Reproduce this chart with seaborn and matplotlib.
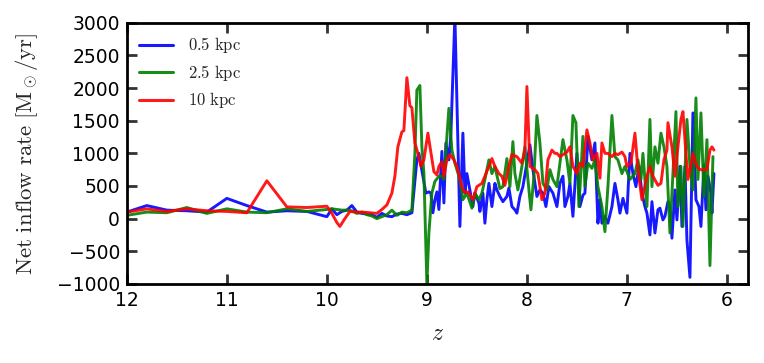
import numpy as np
import pandas as pd
import matplotlib
matplotlib.use("Agg")
import matplotlib.pyplot as plt
import seaborn as sns

# ---------------- data ----------------
z_blue = [12.0, 11.8, 11.6, 11.4, 11.2, 11.0, 10.8, 10.6, 10.4, 10.2, 10.0, 9.95, 9.9, 9.85, 9.8,
          9.75, 9.7, 9.65, 9.6, 9.55, 9.5, 9.45, 9.4, 9.35, 9.3, 9.25, 9.2, 9.15, 9.1, 9.08,
          9.04, 9.01, 8.98, 8.96, 8.94, 8.92, 8.9, 8.88, 8.85, 8.83, 8.81, 8.78, 8.76, 8.72, 8.67,
          8.64, 8.62, 8.6, 8.57, 8.54, 8.52, 8.48, 8.47, 8.44, 8.42, 8.4, 8.38, 8.35, 8.32, 8.3,
          8.27, 8.24, 8.2, 8.18, 8.15, 8.12, 8.1, 8.07, 8.04, 8.0, 7.97, 7.94, 7.9, 7.87, 7.84,
          7.81, 7.78, 7.74, 7.7, 7.67, 7.64, 7.62, 7.59, 7.57, 7.54, 7.5, 7.47, 7.44, 7.42, 7.39,
          7.35, 7.32, 7.29, 7.27, 7.25, 7.22, 7.19, 7.15, 7.12, 7.09, 7.07, 7.04, 7.0, 6.97, 6.94,
          6.91, 6.88, 6.85, 6.82, 6.8, 6.77, 6.75, 6.72, 6.69, 6.67, 6.64, 6.62, 6.59, 6.57, 6.55,
          6.52, 6.5, 6.47, 6.45, 6.42, 6.4, 6.37, 6.34, 6.31, 6.28, 6.26, 6.23, 6.21, 6.19, 6.16,
          6.15, 6.13]
inflow_blue = [100, 200, 130, 120, 100, 310, 200, 100, 120, 110, 30, 150, 60, 110, 130,
               200, 100, 80, 70, 60, 20, 80, 40, 30, 70, 80, 60, 90, 900, 1000,
               650, 390, 410, 390, 90, 290, 410, 140, 1030, 240, 1160, 900, 1300, 3100, -120,
               1310, 390, 690, 440, 185, 390, 240, 110, 390, -70, 290, 540, 185, 540, 440,
               340, 260, 340, 470, 185, 135, 84, 340, 490, 850, 1130, 750, 340, 440, 390,
               185, 490, 390, 185, 540, 650, 185, 340, 540, 35, 1000, 185, 360, 390, 1260,
               900, 1160, -70, 290, -70, 35, -70, 185, 540, 290, 84, 310, 84, 1000, 690,
               490, 800, 390, 185, 84, -250, 260, -220, 135, 160, -20, 35, 260, 185, -300,
               440, -20, 800, -120, 800, -330, -900, 1620, 290, 185, -120, 820, 135, 650, 390,
               84, 690]

z_green = [12.0, 11.8, 11.6, 11.4, 11.2, 11.0, 10.8, 10.6, 10.4, 10.2, 10.0, 9.95, 9.9, 9.85, 9.8,
           9.75, 9.7, 9.65, 9.6, 9.55, 9.5, 9.45, 9.4, 9.35, 9.3, 9.25, 9.2, 9.15, 9.12, 9.1,
           9.07, 9.05, 9.03, 9.0, 8.98, 8.95, 8.92, 8.88, 8.85, 8.83, 8.78, 8.75, 8.72, 8.67, 8.64,
           8.6, 8.55, 8.52, 8.48, 8.45, 8.42, 8.38, 8.35, 8.32, 8.27, 8.24, 8.2, 8.17, 8.14, 8.12,
           8.09, 8.05, 8.02, 7.99, 7.96, 7.93, 7.9, 7.87, 7.84, 7.8, 7.77, 7.74, 7.7, 7.67, 7.64,
           7.6, 7.57, 7.54, 7.51, 7.48, 7.44, 7.42, 7.39, 7.35, 7.32, 7.29, 7.25, 7.22, 7.19, 7.15,
           7.12, 7.09, 7.05, 7.02, 6.97, 6.92, 6.89, 6.86, 6.84, 6.8, 6.77, 6.75, 6.72, 6.69, 6.66,
           6.63, 6.6, 6.57, 6.54, 6.51, 6.49, 6.46, 6.44, 6.4, 6.37, 6.34, 6.31, 6.29, 6.26, 6.23,
           6.2, 6.17, 6.14]
inflow_green = [50, 100, 90, 170, 80, 150, 100, 90, 150, 110, 140, 150, 140, 130, 130,
                120, 80, 100, 60, 40, 0, 30, 60, 130, 50, 100, 90, 130, 1000, 1970,
                2040, 1100, 700, -1000, -220, 390, 570, 650, 650, 600, 1690, 1050, 850, 600, 290,
                390, 160, 390, 290, 390, 600, 900, 690, 800, 460, 490, 920, 490, 1180, 690,
                440, 800, 1100, 600, 135, 650, 1580, 1160, 540, 440, 750, 600, 490, 850, 1210,
                900, 540, 1580, 1470, 185, 1260, 490, 850, 770, 900, 490, 185, -200, 490, 1580,
                950, 900, 690, 800, 600, 690, 900, 600, 1000, 185, 1520, 490, 1100, 850, 1310,
                1100, 800, -220, 690, 1640, 185, 800, -120, 1520, 800, 440, 1850, 600, 1620, 340,
                1210, -720, 950]

z_red = [12.0, 11.8, 11.6, 11.4, 11.2, 11.0, 10.8, 10.6, 10.4, 10.2, 10.0, 9.95, 9.9, 9.87, 9.82,
         9.77, 9.7, 9.64, 9.57, 9.5, 9.45, 9.4, 9.35, 9.32, 9.29, 9.25, 9.23, 9.2, 9.17, 9.15,
         9.12, 9.09, 9.06, 9.03, 8.99, 8.93, 8.9, 8.88, 8.85, 8.83, 8.8, 8.77, 8.73, 8.7, 8.65,
         8.62, 8.59, 8.54, 8.5, 8.45, 8.42, 8.38, 8.35, 8.32, 8.28, 8.25, 8.22, 8.18, 8.15, 8.1,
         8.05, 8.02, 8.0, 7.97, 7.92, 7.89, 7.85, 7.82, 7.79, 7.75, 7.72, 7.7, 7.67, 7.64, 7.6,
         7.57, 7.54, 7.5, 7.47, 7.44, 7.4, 7.37, 7.34, 7.3, 7.27, 7.25, 7.22, 7.19, 7.15, 7.12,
         7.09, 7.05, 7.02, 7.0, 6.96, 6.92, 6.89, 6.85, 6.8, 6.77, 6.74, 6.69, 6.66, 6.63, 6.6,
         6.59, 6.55, 6.52, 6.49, 6.46, 6.44, 6.41, 6.39, 6.35, 6.34, 6.3, 6.27, 6.24, 6.2, 6.17,
         6.15, 6.13]
inflow_red = [100, 150, 110, 150, 120, 110, 90, 580, 180, 170, 190, 80, -60, -120, 0,
              110, 100, 100, 90, 80, 140, 210, 390, 650, 1100, 1330, 1350, 2160, 1730, 1700,
              1160, 1000, 800, 900, 1310, 720, 670, 800, 870, 650, 900, 980, 900, 800, 490,
              400, 410, 290, 490, 540, 650, 800, 920, 800, 690, 650, 510, 800, 980, 950,
              850, 1050, 2024, 800, 750, 690, 290, 390, 900, 1050, 1000, 1000, 950, 980, 1020,
              1100, 800, 690, 850, 800, 1360, 1160, 900, 1000, 620, 1160, 1000, 1000, 950, 1000,
              980, 1020, 950, 800, 850, 1310, 750, 290, 650, 800, 650, 510, 540, 900, 1050,
              1470, 1100, 650, 1100, 1520, 1640, 1000, 600, 900, 1000, 800, 750, 750, 750, 1050,
              1100, 1050]

series_labels = ["0.5 kpc", "2.5 kpc", "10 kpc"]
series_colors = ["#0000ff", "#008000", "#ff0000"]
x_ticks = [12, 11, 10, 9, 8, 7, 6]
y_ticks = [-1000, -500, 0, 500, 1000, 1500, 2000, 2500, 3000]

# ---------------- style ----------------
sns.set_style("white")
plt.rcParams["font.family"] = ["DejaVu Sans"]
plt.rcParams["mathtext.fontset"] = "cm"

frames = []
for lab, zz, vv in zip(series_labels, [z_blue, z_green, z_red],
                       [inflow_blue, inflow_green, inflow_red]):
    frames.append(pd.DataFrame({"z": zz, "inflow": vv, "series": lab}))
df = pd.concat(frames, ignore_index=True)

fig = plt.figure(figsize=(7.64, 3.63), dpi=100)
ax = fig.add_axes([0.166, 0.218, 0.813, 0.719])

sns.lineplot(data=df, x="z", y="inflow", hue="series", hue_order=series_labels,
             palette=dict(zip(series_labels, series_colors)), estimator=None,
             sort=False, linewidth=2.1, alpha=0.9, ax=ax)

ax.set_xlim(12, 5.79)
ax.set_ylim(-1000, 3000)
ax.set_xticks(x_ticks)
ax.set_xticklabels([str(t) for t in x_ticks])
ax.set_yticks(y_ticks)
ax.set_yticklabels([str(t).replace("-", "\u2212") for t in y_ticks])
ax.tick_params(which="major", direction="in", top=True, right=True, bottom=True, left=True,
               length=7, width=2.0, color="#333333", labelcolor="black", labelsize=13.5, pad=5)
for sp in ax.spines.values():
    sp.set_linewidth(2.0)
    sp.set_color("black")

ax.set_xlabel(r"$z$", fontsize=17, labelpad=8)
ax.set_ylabel(r"$\mathrm{Net\ inflow\ rate\ [M_\odot/yr]}$", fontsize=16.5, labelpad=12)

handles, labels = ax.get_legend_handles_labels()
leg = ax.legend(handles, [r"$\mathrm{%s}$" % l.replace(" ", "\\ ") for l in labels],
                loc="upper left", frameon=False, fontsize=12, handlelength=2.0,
                borderaxespad=0.35, labelspacing=0.45, handletextpad=0.9)
for h in leg.get_lines():
    h.set_linewidth(2.2)

fig.savefig("out.png", dpi=100)
